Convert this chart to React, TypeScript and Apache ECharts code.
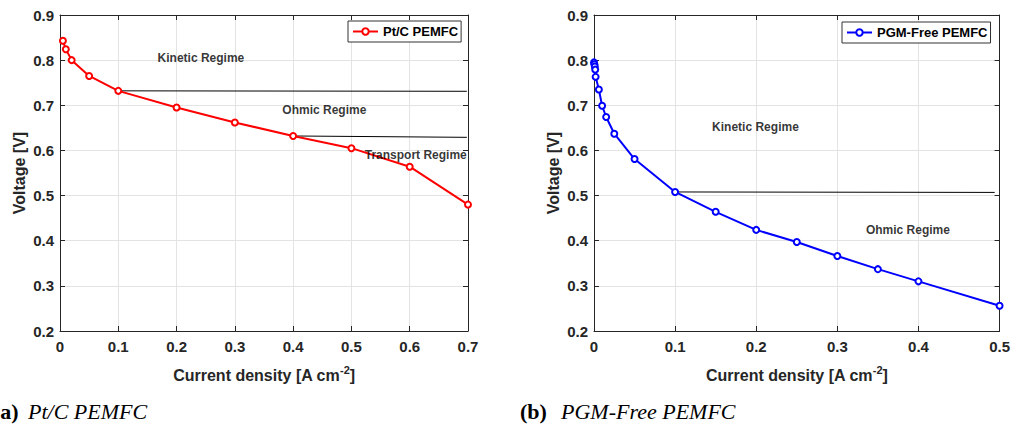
import React, { useEffect, useRef } from "react";
import * as echarts from "echarts";

// ---- Data ----
const ptcCurrent = [0.005, 0.01, 0.02, 0.05, 0.1, 0.2, 0.3, 0.4, 0.5, 0.6, 0.7];
const ptcVoltage = [0.843, 0.824, 0.8, 0.765, 0.732, 0.695, 0.662, 0.632, 0.605, 0.564, 0.48];

const pgmCurrent = [0, 0.0005, 0.001, 0.0015, 0.002, 0.006, 0.01, 0.015, 0.025, 0.05, 0.1, 0.15, 0.2, 0.25, 0.3, 0.35, 0.4, 0.5];
const pgmVoltage = [0.795, 0.791, 0.786, 0.779, 0.763, 0.735, 0.699, 0.674, 0.637, 0.581, 0.508, 0.464, 0.424, 0.397, 0.366, 0.337, 0.31, 0.256];

// regime boundary lines: [x, y] pairs
const ptcKineticLine = [[0.1, 0.732], [0.698, 0.731]];
const ptcOhmicLine = [[0.4, 0.632], [0.698, 0.629]];
const pgmKineticLine = [[0.1, 0.508], [0.494, 0.507]];

// regime annotations: [x, y, text]
const ptcRegimes = [
  [0.1665, 0.805, "Kinetic Regime"],
  [0.3806, 0.6894, "Ohmic Regime"],
  [0.522, 0.5896, "Transport Regime"],
];
const pgmRegimes = [
  [0.145, 0.651, "Kinetic Regime"],
  [0.3346, 0.4233, "Ohmic Regime"],
];

const leftXTicks = { min: 0, max: 0.7, interval: 0.1 };
const rightXTicks = { min: 0, max: 0.5, interval: 0.1 };
const yTicks = { min: 0.2, max: 0.9, interval: 0.1 };

const seriesNames = ["Pt/C PEMFC", "PGM-Free PEMFC"];
const captions = [
  ["(a)", "Pt/C PEMFC"],
  ["(b)", "PGM-Free PEMFC"],
];

const FONT = "'Liberation Sans', Arial, Helvetica, sans-serif";
const SERIF = "'Liberation Serif', 'Times New Roman', serif";
const AX = "#262626";

const fmt = (v: number) => (Math.abs(v) < 1e-9 ? "0" : (Math.round(v * 10) / 10).toFixed(1));

function mainX(gridIndex: number, t: any) {
  return {
    type: "value",
    gridIndex,
    position: "bottom",
    min: t.min,
    max: t.max,
    interval: t.interval,
    name: "Current density [A cm{sup|-2}]",
    nameLocation: "middle",
    nameGap: 33,
    nameTextStyle: {
      fontFamily: FONT,
      fontWeight: "bold",
      fontSize: 16,
      color: AX,
      rich: {
        sup: { fontFamily: FONT, fontWeight: "bold", fontSize: 11, color: AX, verticalAlign: "top", padding: [0, 0, 12, 0] },
      },
    },
    axisLine: { show: true, onZero: false, lineStyle: { color: AX, width: 1 } },
    axisTick: { show: true, inside: true, length: 5, lineStyle: { color: AX } },
    axisLabel: { show: true, margin: 8, fontFamily: FONT, fontWeight: "bold", fontSize: 15, color: AX, formatter: fmt },
    splitLine: { show: true, lineStyle: { color: "#e3e3e3", width: 1 } },
  };
}
function boxX(gridIndex: number, t: any) {
  return {
    type: "value",
    gridIndex,
    position: "top",
    min: t.min,
    max: t.max,
    interval: t.interval,
    axisLine: { show: true, onZero: false, lineStyle: { color: AX, width: 1 } },
    axisTick: { show: true, inside: true, length: 5, lineStyle: { color: AX } },
    axisLabel: { show: false },
    splitLine: { show: false },
  };
}
function mainY(gridIndex: number) {
  return {
    type: "value",
    gridIndex,
    position: "left",
    min: yTicks.min,
    max: yTicks.max,
    interval: yTicks.interval,
    name: "Voltage [V]",
    nameLocation: "middle",
    nameGap: 33,
    nameRotate: 90,
    nameTextStyle: { fontFamily: FONT, fontWeight: "bold", fontSize: 16, color: AX },
    axisLine: { show: true, onZero: false, lineStyle: { color: AX, width: 1 } },
    axisTick: { show: true, inside: true, length: 5, lineStyle: { color: AX } },
    axisLabel: { show: true, margin: 6, fontFamily: FONT, fontWeight: "bold", fontSize: 15, color: AX, formatter: fmt },
    splitLine: { show: true, lineStyle: { color: "#e3e3e3", width: 1 } },
  };
}
function boxY(gridIndex: number) {
  return {
    type: "value",
    gridIndex,
    position: "right",
    min: yTicks.min,
    max: yTicks.max,
    interval: yTicks.interval,
    axisLine: { show: true, onZero: false, lineStyle: { color: AX, width: 1 } },
    axisTick: { show: true, inside: true, length: 5, lineStyle: { color: AX } },
    axisLabel: { show: false },
    splitLine: { show: false },
  };
}

function curve(name: string, xs: number[], ys: number[], color: string, axisIndex: number) {
  return {
    type: "line",
    name,
    xAxisIndex: axisIndex,
    yAxisIndex: axisIndex,
    data: xs.map((x, i) => [x, ys[i]]),
    symbol: "emptyCircle",
    symbolSize: 6,
    showSymbol: true,
    lineStyle: { color, width: 2 },
    itemStyle: { color, borderColor: color, borderWidth: 1.8 },
    z: 4,
  };
}
function boundary(data: number[][], axisIndex: number) {
  return {
    type: "line",
    xAxisIndex: axisIndex,
    yAxisIndex: axisIndex,
    data,
    symbol: "none",
    lineStyle: { color: "#000", width: 1 },
    z: 3,
    silent: true,
  };
}
function annotations(data: any[], axisIndex: number) {
  return {
    type: "scatter",
    xAxisIndex: axisIndex,
    yAxisIndex: axisIndex,
    data,
    symbol: "circle",
    symbolSize: 1,
    itemStyle: { color: "rgba(0,0,0,0)" },
    label: {
      show: true,
      position: "right",
      distance: 0,
      formatter: (p: any) => p.data[2],
      fontFamily: FONT,
      fontWeight: "bold",
      fontSize: 12,
      color: "#000",
    },
    z: 6,
    silent: true,
  };
}
function legend(name: string, left: number, top: number) {
  return {
    data: [name],
    left,
    top,
    orient: "horizontal",
    padding: [4, 3, 4, 4],
    itemWidth: 25,
    itemHeight: 8,
    backgroundColor: "#fff",
    borderColor: "#333",
    borderWidth: 1,
    borderRadius: 0,
    selectedMode: false,
    textStyle: { fontFamily: FONT, fontWeight: "bold", fontSize: 13, color: "#000" },
  };
}

export default function App() {
  const ref = useRef<HTMLDivElement>(null);
  useEffect(() => {
    if (!ref.current) return;
    const chart = echarts.init(ref.current, undefined, { renderer: "svg" });
    chart.setOption({
      animation: false,
      backgroundColor: "#fff",
      grid: [
        { left: 60, top: 15, width: 408, height: 316 },
        { left: 594, top: 15, width: 407, height: 316 },
      ],
      xAxis: [mainX(0, leftXTicks), boxX(0, leftXTicks), mainX(1, rightXTicks), boxX(1, rightXTicks)],
      yAxis: [mainY(0), boxY(0), mainY(1), boxY(1)],
      legend: [legend(seriesNames[0], 348, 21), legend(seriesNames[1], 842, 22)],
      series: [
        boundary(ptcKineticLine, 0),
        boundary(ptcOhmicLine, 0),
        curve(seriesNames[0], ptcCurrent, ptcVoltage, "#ff0000", 0),
        annotations(ptcRegimes, 0),
        boundary(pgmKineticLine, 2),
        curve(seriesNames[1], pgmCurrent, pgmVoltage, "#0000ff", 2),
        annotations(pgmRegimes, 2),
      ],
      graphic: [
        { type: "text", left: -7, top: 400, style: { text: captions[0][0], font: `bold 22px ${SERIF}`, fill: "#000" } },
        { type: "text", left: 28, top: 400, style: { text: captions[0][1], font: `italic 22px ${SERIF}`, fill: "#000" } },
        { type: "text", left: 520, top: 400, style: { text: captions[1][0], font: `bold 22px ${SERIF}`, fill: "#000" } },
        { type: "text", left: 561, top: 400, style: { text: captions[1][1], font: `italic 22px ${SERIF}`, fill: "#000" } },
      ],
    });
    return () => chart.dispose();
  }, []);
  return <div ref={ref} style={{ position: "fixed", left: 0, top: 0, width: 1013, height: 427 }} />;
}
